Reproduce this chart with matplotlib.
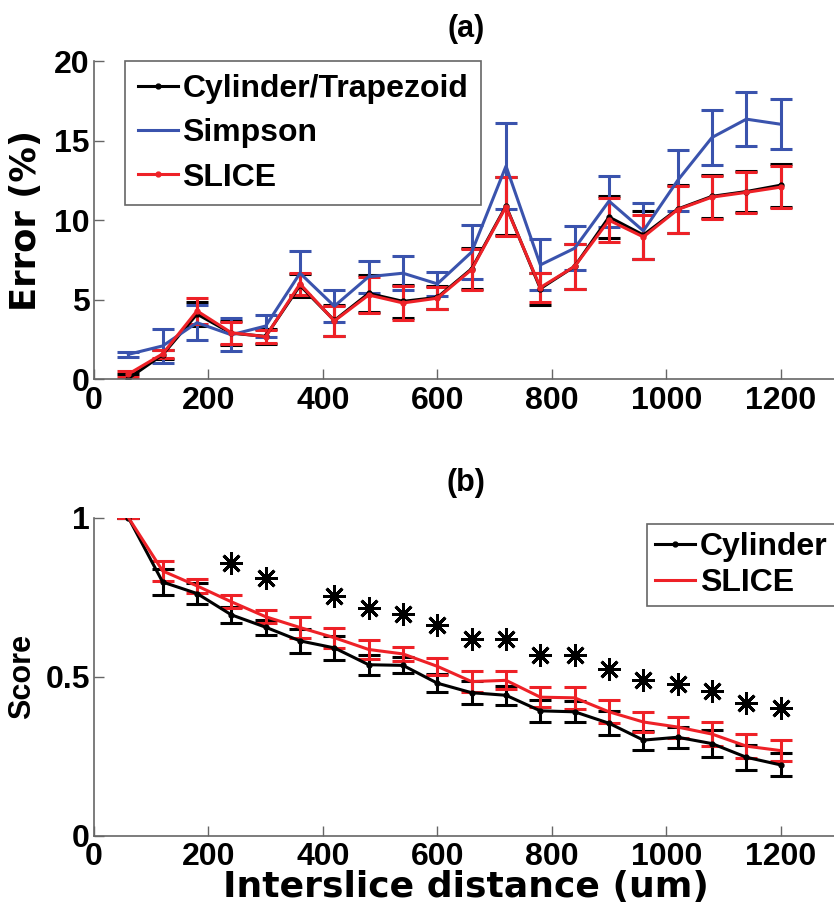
import numpy as np
import matplotlib
matplotlib.use('Agg')
import matplotlib.pyplot as plt
from matplotlib.lines import Line2D

plt.rcParams['font.family'] = ['Liberation Sans', 'DejaVu Sans']
plt.rcParams['font.weight'] = 'bold'

dist = [60, 120, 180, 240, 300, 360, 420, 480, 540, 600,
        660, 720, 780, 840, 900, 960, 1020, 1080, 1140, 1200]

# (a) error %
cyl_err = [0.05, 1.55, 4.1, 2.9, 2.7, 5.9, 3.7, 5.4, 4.9, 5.15,
           6.95, 10.9, 5.7, 7.1, 10.2, 9.07, 10.7, 11.5, 11.8, 12.2]
cyl_err_sd = [0.3, 0.3, 0.75, 0.75, 0.45, 0.7, 0.95, 1.15, 1.05, 0.7,
              1.3, 1.8, 1.0, 1.4, 1.3, 1.5, 1.5, 1.35, 1.3, 1.35]
simp_err = [1.57, 2.1, 3.56, 2.8, 3.35, 6.67, 4.6, 6.45, 6.67, 6.0,
            8.0, 13.4, 7.19, 8.24, 11.2, 9.33, 12.5, 15.2, 16.35, 16.03]
simp_err_sd = [0.15, 1.05, 1.1, 1.05, 0.72, 1.4, 1.0, 1.0, 1.07, 0.75,
               1.7, 2.7, 1.6, 1.4, 1.6, 1.78, 1.9, 1.7, 1.7, 1.57]
slice_err = [0.33, 1.6, 4.3, 2.93, 2.68, 6.0, 3.67, 5.3, 4.8, 5.1,
             6.9, 10.85, 5.77, 7.1, 10.0, 8.95, 10.67, 11.45, 11.75, 12.08]
slice_err_sd = [0.2, 0.27, 0.8, 0.68, 0.42, 0.7, 0.95, 1.15, 1.07, 0.7,
                1.3, 1.85, 0.9, 1.4, 1.38, 1.4, 1.5, 1.35, 1.3, 1.33]

# (b) score
cyl_score = [1.0, 0.797, 0.761, 0.694, 0.655, 0.612, 0.59, 0.537, 0.535, 0.479,
             0.449, 0.441, 0.392, 0.389, 0.353, 0.3, 0.309, 0.289, 0.246, 0.222]
cyl_score_sd = [0.0, 0.04, 0.033, 0.025, 0.023, 0.038, 0.037, 0.032, 0.025, 0.028,
                0.037, 0.03, 0.034, 0.033, 0.037, 0.03, 0.033, 0.043, 0.04, 0.036]
slice_score = [1.0, 0.832, 0.785, 0.735, 0.688, 0.654, 0.622, 0.585, 0.571, 0.532,
               0.484, 0.488, 0.435, 0.433, 0.389, 0.357, 0.341, 0.319, 0.281, 0.267]
slice_score_sd = [0.0, 0.032, 0.021, 0.021, 0.021, 0.033, 0.032, 0.03, 0.023, 0.027,
                  0.034, 0.028, 0.032, 0.035, 0.036, 0.03, 0.033, 0.037, 0.037, 0.034]

# significance markers
sig_x = [240, 300, 420, 480, 540, 600, 660, 720, 780, 840, 900, 960, 1020, 1080, 1140, 1200]
sig_y = [0.857, 0.809, 0.753, 0.717, 0.696, 0.661, 0.619, 0.617, 0.567, 0.567,
         0.524, 0.488, 0.475, 0.454, 0.417, 0.401]

BLUE = '#3a53ad'
RED = '#ee2127'
FS = 23
WIDE = ['DejaVu Sans']

fig = plt.figure(figsize=(8.34, 9.06), dpi=100)
ax1 = fig.add_axes([0.1127, 0.5813, 0.892, 0.3513])
ax2 = fig.add_axes([0.1127, 0.0778, 0.892, 0.351])

kw = dict(lw=2.2, capsize=8, capthick=2.2, elinewidth=2.2)
ax1.errorbar(dist, cyl_err, yerr=cyl_err_sd, color='k', marker='.', ms=7, **kw)
ax1.errorbar(dist, simp_err, yerr=simp_err_sd, color=BLUE, **kw)
ax1.errorbar(dist, slice_err, yerr=slice_err_sd, color=RED, marker='.', ms=7, **kw)
ax1.set_xlim(0, 1300)
ax1.set_ylim(0, 20)
ax1.set_yticks([0, 5, 10, 15, 20])
ax1.set_ylabel('Error (%)', fontsize=25.5, fontweight='bold', family=WIDE, labelpad=8)
ax1.set_title('(a)', fontsize=22, fontweight='bold', pad=17)

ax2.errorbar(dist, cyl_score, yerr=cyl_score_sd, color='k', marker='.', ms=7, **kw)
ax2.errorbar(dist, slice_score, yerr=slice_score_sd, color=RED, **kw)
ax2.plot(sig_x, sig_y, ls='none', marker=(8, 2, 0), ms=16, mew=2.1, color='k')
ax2.set_xlim(0, 1300)
ax2.set_ylim(0, 1)
ax2.set_yticks([0, 0.5, 1])
ax2.set_yticklabels(['0', '0.5', '1'])
ax2.set_ylabel('Score', fontsize=22, fontweight='bold', labelpad=6)
ax2.set_xlabel('Interslice distance (um)', fontsize=26, fontweight='bold', family=WIDE, labelpad=-2)
ax2.set_title('(b)', fontsize=22, fontweight='bold', pad=19)

for ax in (ax1, ax2):
    ax.set_xticks([0, 200, 400, 600, 800, 1000, 1200])
    ax.spines['top'].set_visible(False)
    ax.spines['right'].set_visible(False)
    for s in ('left', 'bottom'):
        ax.spines[s].set_color('#666666')
        ax.spines[s].set_linewidth(1.2)
    ax.tick_params(direction='in', length=7, width=1, colors='#666666',
                   labelcolor='k', labelsize=FS, pad=3)
    ax.tick_params(axis='x', pad=5)
    for lab in ax.get_xticklabels() + ax.get_yticklabels():
        lab.set_fontweight('bold')

h_cyl = Line2D([], [], color='k', lw=2.2, marker='.', ms=7)
h_simp = Line2D([], [], color=BLUE, lw=2.2)
h_slice_a = Line2D([], [], color=RED, lw=2.2, marker='.', ms=7)
h_slice_b = Line2D([], [], color=RED, lw=2.2)

legkw = dict(loc='upper left', bbox_transform=fig.transFigure, borderaxespad=0,
             fontsize=FS, fancybox=False, edgecolor='#666666', framealpha=1,
             handlelength=1.25, handletextpad=0.15)
leg1 = ax1.legend([h_cyl, h_simp, h_slice_a], ['Cylinder/Trapezoid', 'Simpson', 'SLICE'],
                  bbox_to_anchor=(125 / 834, 1 - 61 / 906), labelspacing=0.45,
                  borderpad=0.4, **legkw)
leg2 = ax2.legend([h_cyl, h_slice_b], ['Cylinder', 'SLICE'],
                  bbox_to_anchor=(647 / 834, 1 - 524 / 906), labelspacing=0.2,
                  borderpad=0.25, **legkw)
for leg in (leg1, leg2):
    leg.get_frame().set_linewidth(1.2)

fig.savefig('out.png', dpi=100)
